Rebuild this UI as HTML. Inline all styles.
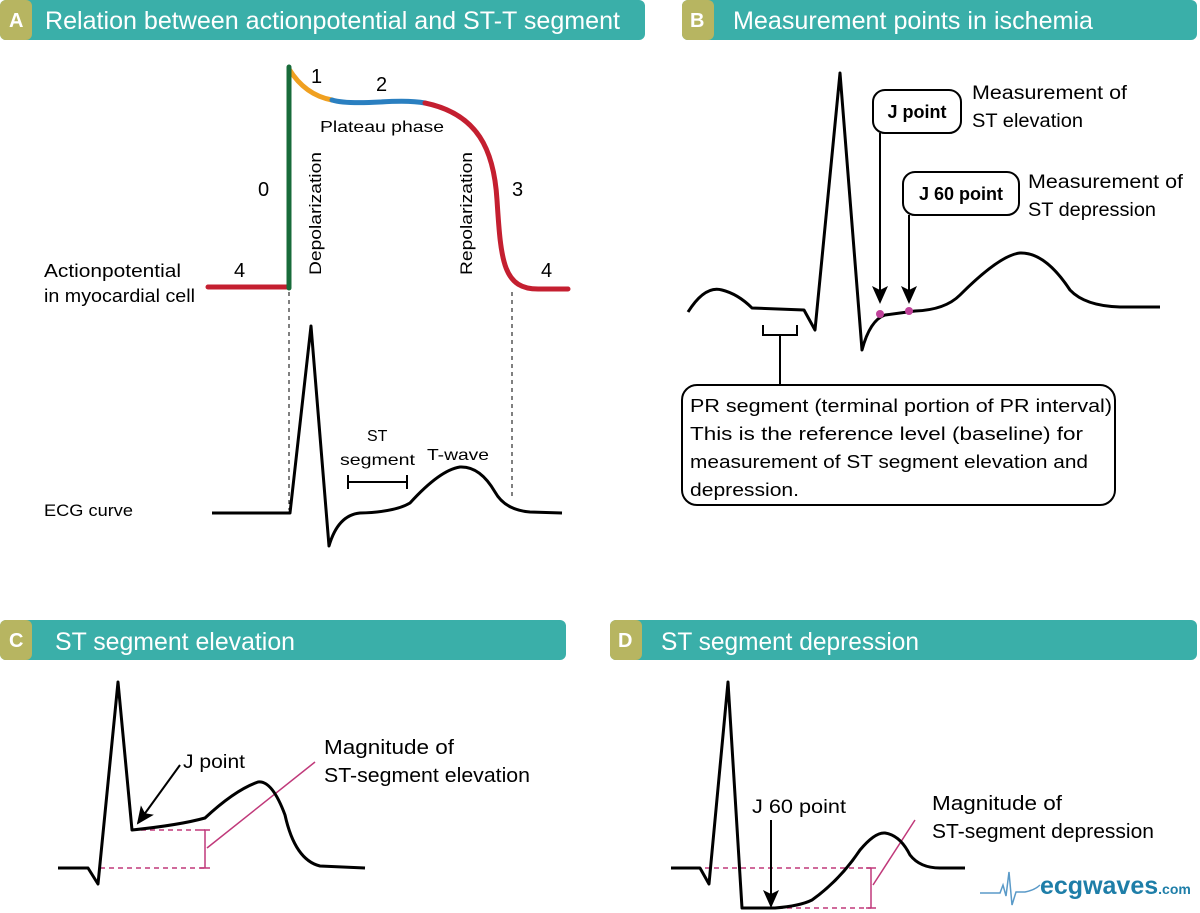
<!DOCTYPE html>
<html><head><meta charset="utf-8"><style>
html,body{margin:0;padding:0;background:#fff;}
svg{display:block;font-family:"Liberation Sans",sans-serif;}
</style></head><body>
<svg width="1200" height="913" viewBox="0 0 1200 913" xmlns="http://www.w3.org/2000/svg">
<defs>
<marker id="ah2" markerWidth="18" markerHeight="18" refX="16" refY="9" orient="auto" markerUnits="userSpaceOnUse" viewBox="0 0 18 18">
<path d="M0,1 L18,9 L0,17 L4,9 Z" fill="#000"/></marker>
</defs>
<!-- headers -->
<rect x="0" y="0" width="645" height="40" rx="6" fill="#3aafa9"/>
<rect x="0" y="0" width="32" height="40" rx="6" fill="#b7b561"/>
<text x="9" y="27" fill="#fff" font-size="20" font-weight="bold">A</text>
<text x="45" y="29" fill="#fff" font-size="25" textLength="575" lengthAdjust="spacingAndGlyphs">Relation between actionpotential and ST-T segment</text>
<rect x="682" y="0" width="515" height="40" rx="6" fill="#3aafa9"/>
<rect x="682" y="0" width="32" height="40" rx="6" fill="#b7b561"/>
<text x="690" y="27" fill="#fff" font-size="20" font-weight="bold">B</text>
<text x="733" y="29" fill="#fff" font-size="25" textLength="360" lengthAdjust="spacingAndGlyphs">Measurement points in ischemia</text>
<rect x="0" y="620" width="566" height="40" rx="6" fill="#3aafa9"/>
<rect x="0" y="620" width="32" height="40" rx="6" fill="#b7b561"/>
<text x="9" y="647" fill="#fff" font-size="20" font-weight="bold">C</text>
<text x="55" y="650" fill="#fff" font-size="25" textLength="240" lengthAdjust="spacingAndGlyphs">ST segment elevation</text>
<rect x="610" y="620" width="587" height="40" rx="6" fill="#3aafa9"/>
<rect x="610" y="620" width="32" height="40" rx="6" fill="#b7b561"/>
<text x="618" y="647" fill="#fff" font-size="20" font-weight="bold">D</text>
<text x="661" y="650" fill="#fff" font-size="25" textLength="258" lengthAdjust="spacingAndGlyphs">ST segment depression</text>

<!-- Panel A -->
<g fill="none" stroke-width="5" stroke-linecap="round">
<path d="M208,287 L289,287" stroke="#c41f30"/>
<path d="M289,69 Q305,95 332,100" stroke="#f0a020"/>
<path d="M332,100 Q345,104 380,102 Q410,100 425,103" stroke="#2a7fc0"/>
<path d="M425,103 C478,114 494,150 497,200 C501,262 503,290 540,289 L568,289" stroke="#c41f30"/>
<path d="M289,67 L289,288" stroke="#186b3a"/>
</g>
<g stroke="#000" stroke-width="1" stroke-dasharray="4,4">
<line x1="289" y1="292" x2="289" y2="510"/>
<line x1="512" y1="292" x2="512" y2="500"/>
</g>
<g font-size="20" fill="#000">
<text x="311" y="83">1</text><text x="376" y="91">2</text>
<text x="258" y="196">0</text><text x="512" y="196">3</text>
<text x="234" y="277">4</text><text x="541" y="277">4</text>
</g>
<text x="320" y="132" font-size="16" textLength="124" lengthAdjust="spacingAndGlyphs">Plateau phase</text>
<text transform="translate(321,275) rotate(-90)" font-size="17" textLength="123" lengthAdjust="spacingAndGlyphs">Depolarization</text>
<text transform="translate(472,275) rotate(-90)" font-size="17" textLength="123" lengthAdjust="spacingAndGlyphs">Repolarization</text>
<text x="44" y="277" font-size="18" textLength="137" lengthAdjust="spacingAndGlyphs">Actionpotential</text>
<text x="44" y="302" font-size="18" textLength="151" lengthAdjust="spacingAndGlyphs">in myocardial cell</text>
<text x="44" y="516" font-size="17" textLength="89" lengthAdjust="spacingAndGlyphs">ECG curve</text>
<path d="M212,513 L290,513 L311,326 L329,546 Q338,515 360,513 Q395,512 410,503 Q440,470 460,467 Q480,466 495,492 Q505,510 530,512 L562,513" fill="none" stroke="#000" stroke-width="3" stroke-linejoin="round"/>
<text x="367" y="441" font-size="16">ST</text>
<text x="340" y="465" font-size="16" textLength="75" lengthAdjust="spacingAndGlyphs">segment</text>
<text x="427" y="460" font-size="16" textLength="62" lengthAdjust="spacingAndGlyphs">T-wave</text>
<g stroke="#000" stroke-width="2"><line x1="348" y1="482" x2="407" y2="482"/><line x1="348" y1="475" x2="348" y2="489"/><line x1="407" y1="475" x2="407" y2="489"/></g>

<!-- Panel B -->
<path d="M688,312 Q705,285 722,290 Q738,294 752,308 L804,310 L815,330 L840,73 L862,350 Q870,320 885,315 L915,311 Q945,310 960,295 Q1000,255 1020,253 Q1045,252 1070,290 Q1085,306 1120,307 L1160,307" fill="none" stroke="#000" stroke-width="3" stroke-linejoin="round"/>
<circle cx="880" cy="314" r="4" fill="#c0429a"/>
<circle cx="909" cy="311" r="4" fill="#c0429a"/>
<rect x="873" y="90" width="88" height="43" rx="12" fill="#fff" stroke="#000" stroke-width="2"/>
<text x="917" y="118" font-size="18" font-weight="bold" text-anchor="middle">J point</text>
<rect x="903" y="172" width="116" height="43" rx="12" fill="#fff" stroke="#000" stroke-width="2"/>
<text x="961" y="200" font-size="18" font-weight="bold" text-anchor="middle">J 60 point</text>
<line x1="880" y1="133" x2="880" y2="302" stroke="#000" stroke-width="2" marker-end="url(#ah2)"/>
<line x1="909" y1="215" x2="909" y2="302" stroke="#000" stroke-width="2" marker-end="url(#ah2)"/>
<text x="972" y="99" font-size="19" textLength="155" lengthAdjust="spacingAndGlyphs">Measurement of</text>
<text x="972" y="127" font-size="19" textLength="111" lengthAdjust="spacingAndGlyphs">ST elevation</text>
<text x="1028" y="188" font-size="19" textLength="155" lengthAdjust="spacingAndGlyphs">Measurement of</text>
<text x="1028" y="216" font-size="19" textLength="128" lengthAdjust="spacingAndGlyphs">ST depression</text>
<g stroke="#000" stroke-width="2" fill="none"><path d="M763,325 L763,335 L797,335 L797,325"/><line x1="780" y1="335" x2="780" y2="385"/></g>
<rect x="682" y="385" width="433" height="120" rx="15" fill="#fff" stroke="#000" stroke-width="2"/>
<g font-size="18"><text x="690" y="412" textLength="422" lengthAdjust="spacingAndGlyphs">PR segment (terminal portion of PR interval)</text>
<text x="690" y="440" textLength="393" lengthAdjust="spacingAndGlyphs">This is the reference level (baseline) for</text>
<text x="690" y="468" textLength="398" lengthAdjust="spacingAndGlyphs">measurement of ST segment elevation and</text>
<text x="690" y="496" textLength="109" lengthAdjust="spacingAndGlyphs">depression.</text></g>

<!-- Panel C -->
<g stroke="#c0397a" stroke-width="1.5" fill="none">
<line x1="132" y1="830" x2="205" y2="830" stroke-dasharray="5,4"/>
<line x1="100" y1="868" x2="205" y2="868" stroke-dasharray="5,4"/>
<line x1="205" y1="830" x2="205" y2="868"/><line x1="200" y1="830" x2="210" y2="830"/><line x1="200" y1="868" x2="210" y2="868"/>
<line x1="207" y1="848" x2="315" y2="762"/>
</g>
<path d="M58,868 L88,868 L98,884 L118,682 L132,830 Q180,825 205,818 Q235,790 258,782 Q272,780 285,815 Q295,860 320,866 L365,868" fill="none" stroke="#000" stroke-width="3" stroke-linejoin="round"/>
<line x1="180" y1="765" x2="138" y2="823" stroke="#000" stroke-width="2" marker-end="url(#ah2)"/>
<text x="183" y="768" font-size="19" textLength="62" lengthAdjust="spacingAndGlyphs">J point</text>
<text x="324" y="754" font-size="20" textLength="130" lengthAdjust="spacingAndGlyphs">Magnitude of</text>
<text x="324" y="782" font-size="20" textLength="206" lengthAdjust="spacingAndGlyphs">ST-segment elevation</text>

<!-- Panel D -->
<g stroke="#c0397a" stroke-width="1.5" fill="none">
<line x1="705" y1="868" x2="871" y2="868" stroke-dasharray="5,4"/>
<line x1="742" y1="908" x2="871" y2="908" stroke-dasharray="5,4"/>
<line x1="871" y1="868" x2="871" y2="908"/><line x1="866" y1="868" x2="876" y2="868"/><line x1="866" y1="908" x2="876" y2="908"/>
<line x1="873" y1="885" x2="915" y2="820"/>
</g>
<path d="M671,868 L700,868 L709,884 L728,682 L742,908 L775,908 Q800,906 812,900 Q840,880 860,850 Q875,832 885,833 Q900,835 910,855 Q920,868 940,868 L965,868" fill="none" stroke="#000" stroke-width="3" stroke-linejoin="round"/>
<line x1="771" y1="820" x2="771" y2="906" stroke="#000" stroke-width="2" marker-end="url(#ah2)"/>
<text x="752" y="813" font-size="19" textLength="94" lengthAdjust="spacingAndGlyphs">J 60 point</text>
<text x="932" y="810" font-size="20" textLength="130" lengthAdjust="spacingAndGlyphs">Magnitude of</text>
<text x="932" y="838" font-size="20" textLength="222" lengthAdjust="spacingAndGlyphs">ST-segment depression</text>
<path d="M980,893 L1000,893 L1003,885 L1006,896 L1009,872 L1012,905 L1016,892 L1025,892 Q1035,890 1040,885" fill="none" stroke="#5a9ac8" stroke-width="1.5"/>
<text x="1040" y="894" font-size="25" font-weight="bold" fill="#1e7ea8">ecgwaves<tspan font-size="14" font-weight="bold">.com</tspan></text>
</svg>
</body></html>
